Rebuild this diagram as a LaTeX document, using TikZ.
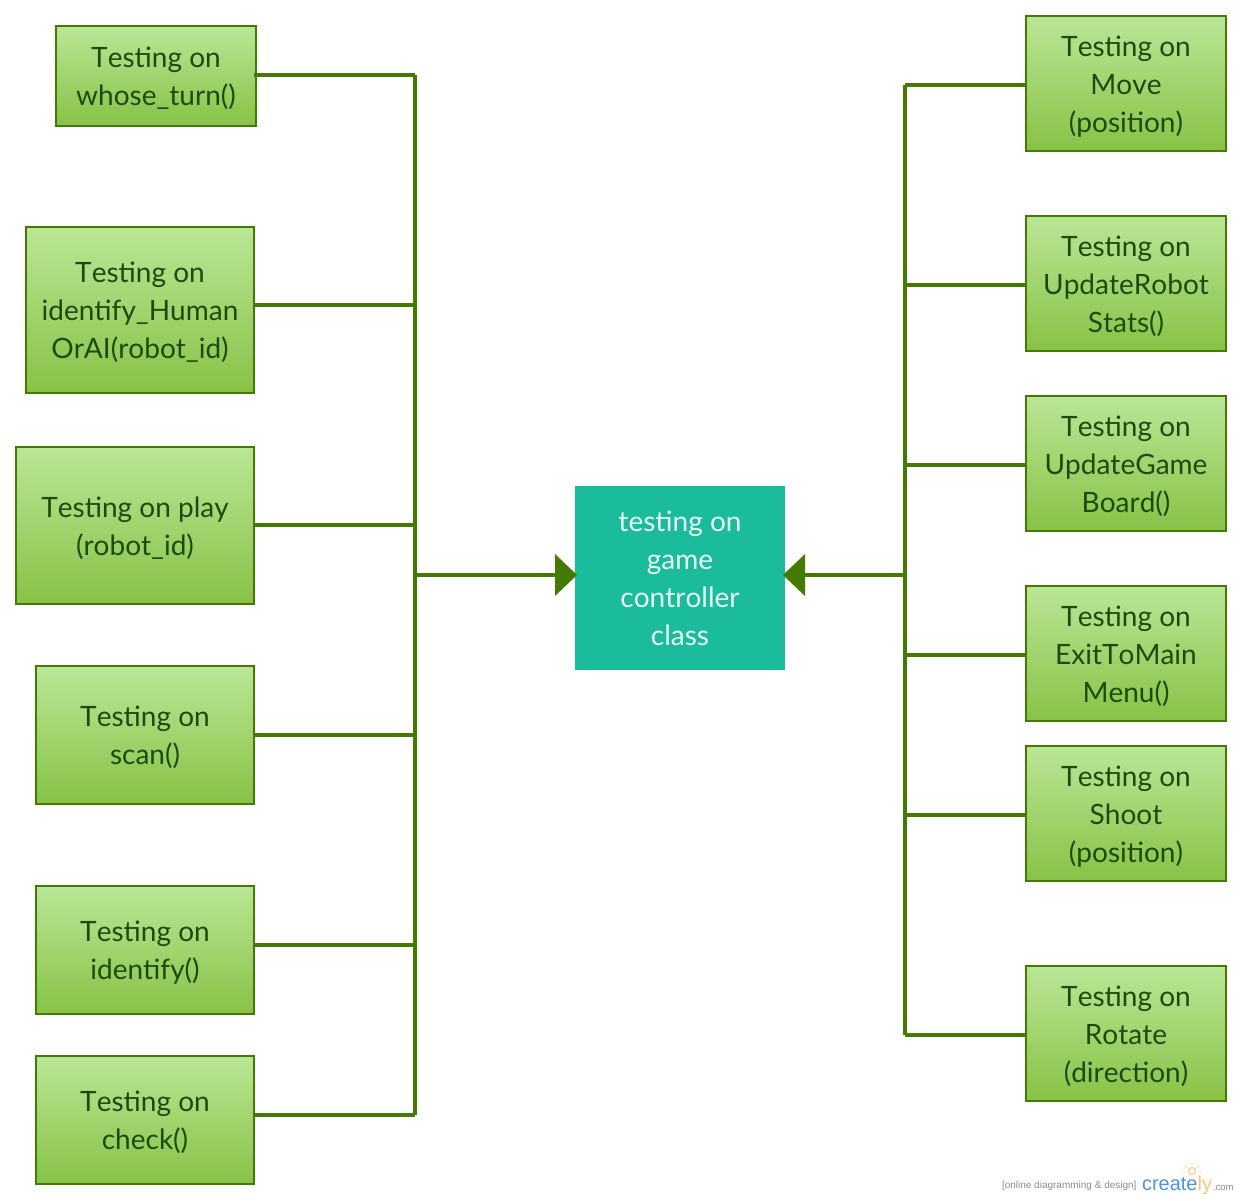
\documentclass[tikz,border=0pt]{standalone}
\usepackage{fontspec}
\setmainfont[Kerning=Off]{Lato}
\newfontfamily\markfont{Liberation Sans}
\usetikzlibrary{arrows.meta}
\definecolor{linegreen}{HTML}{457A00}
\definecolor{boxtop}{HTML}{BAE696}
\definecolor{boxbot}{HTML}{88C246}
\definecolor{inkgreen}{HTML}{1D4A0C}
\definecolor{teal}{HTML}{1ABC9C}
\definecolor{tealink}{HTML}{E6F8F0}
\definecolor{logoblue}{HTML}{4F94D4}
\definecolor{logoorange}{HTML}{F8C77E}
\newcommand{\firstline}{\rule{0pt}{31pt}}
\newcommand{\lastline}{\rule[-10pt]{0pt}{10pt}}
\tikzset{
  testbox/.style={draw=linegreen,line width=2pt,top color=boxtop,bottom color=boxbot,
    text=inkgreen,align=center,inner sep=0pt,outer sep=0pt,
    font=\fontsize{28}{38}\selectfont},
  mainbox/.style={fill=teal,text=tealink,align=center,inner sep=0pt,outer sep=0pt,
    minimum width=210pt,minimum height=184pt,font=\fontsize{28}{38}\selectfont},
  bus/.style={draw=linegreen,line width=4pt,line cap=butt},
  feed/.style={bus,-{Triangle[length=22pt,width=42pt,line width=0pt]}},
  logotext/.style={inner sep=0pt,outer sep=0pt,anchor=base west},
}
\begin{document}
\begin{tikzpicture}[x=1pt,y=-1pt]
\useasboundingbox (0,0) rectangle (1240,1200);
% left boxes
\node[testbox,minimum width=200pt,minimum height=100pt] (l1) at (156,76) {\firstline Testing on\\whose\_turn()\lastline};
\node[testbox,minimum width=228pt,minimum height=166pt] (l2) at (140,310) {\firstline Testing on\\identify\_Human\\OrAI(robot\_id)\lastline};
\node[testbox,minimum width=238pt,minimum height=157pt] (l3) at (135,525.5) {\firstline Testing on play\\(robot\_id)\lastline};
\node[testbox,minimum width=218pt,minimum height=138pt] (l4) at (145,735) {\firstline Testing on\\scan()\lastline};
\node[testbox,minimum width=218pt,minimum height=128pt] (l5) at (145,950) {\firstline Testing on\\identify()\lastline};
\node[testbox,minimum width=218pt,minimum height=128pt] (l6) at (145,1120) {\firstline Testing on\\check()\lastline};
% right boxes
\node[testbox,minimum width=200pt,minimum height=135pt] (r1) at (1126,83.5) {\firstline Testing on\\Move\\(position)\lastline};
\node[testbox,minimum width=200pt,minimum height=135pt] (r2) at (1126,283.5) {\firstline Testing on\\UpdateRobot\\Stats()\lastline};
\node[testbox,minimum width=200pt,minimum height=135pt] (r3) at (1126,463.5) {\firstline Testing on\\UpdateGame\\Board()\lastline};
\node[testbox,minimum width=200pt,minimum height=135pt] (r4) at (1126,653.5) {\firstline Testing on\\ExitToMain\\Menu()\lastline};
\node[testbox,minimum width=200pt,minimum height=135pt] (r5) at (1126,813.5) {\firstline Testing on\\Shoot\\(position)\lastline};
\node[testbox,minimum width=200pt,minimum height=135pt] (r6) at (1126,1033.5) {\firstline Testing on\\Rotate\\(direction)\lastline};
% centre
\node[mainbox] (main) at (680,578) {testing on\\game\\controller\\class};
% bus coordinates
\coordinate (la) at (415,75);
\coordinate (lb) at (415,305);
\coordinate (lc) at (415,525);
\coordinate (lm) at (415,575);
\coordinate (ld) at (415,735);
\coordinate (le) at (415,945);
\coordinate (lf) at (415,1115);
\coordinate (ra) at (905,85);
\coordinate (rb) at (905,285);
\coordinate (rc) at (905,465);
\coordinate (rm) at (905,575);
\coordinate (rd) at (905,655);
\coordinate (re) at (905,815);
\coordinate (rf) at (905,1035);
\coordinate (tipl) at (577,575);
\coordinate (tipr) at (783,575);
% left connectors
\draw[bus,shorten <=-2pt] (l1.east |- la) -- (la);
\draw[bus] (l2.east |- lb) -- (lb);
\draw[bus] (l3.east |- lc) -- (lc);
\draw[bus] (l4.east |- ld) -- (ld);
\draw[bus] (l5.east |- le) -- (le);
\draw[bus] (l6.east |- lf) -- (lf);
\draw[bus,line cap=square] (la) -- (lf);
\draw[feed] (lm) -- (tipl);
% right connectors
\draw[bus] (r1.west |- ra) -- (ra);
\draw[bus] (r2.west |- rb) -- (rb);
\draw[bus] (r3.west |- rc) -- (rc);
\draw[bus] (r4.west |- rd) -- (rd);
\draw[bus] (r5.west |- re) -- (re);
\draw[bus] (r6.west |- rf) -- (rf);
\draw[bus,line cap=square] (ra) -- (rf);
\draw[feed] (rm) -- (tipr);
% watermark
\node[logotext,text=black!45,font=\markfont\fontsize{10}{10}\selectfont] (wm) at (1002,1188) {[online diagramming \& design]};
\node[logotext,font=\markfont\fontsize{20}{20}\selectfont] (logo) at (1142,1190) {\textcolor{logoblue}{create}\textcolor{logoorange}{ly}};
\node[logotext,text=black!45,font=\markfont\fontsize{9.5}{9.5}\selectfont] (dom) at (1213,1190) {.com};
\draw[logoorange,line width=1pt] (1192,1171) circle (3.5pt);
\draw[logoorange,line width=.8pt] (1192,1163)--(1192,1165) (1185,1166)--(1186.5,1167.5) (1199,1166)--(1197.5,1167.5) (1183,1172)--(1185,1172) (1199,1172)--(1201,1172);
\end{tikzpicture}
\end{document}
